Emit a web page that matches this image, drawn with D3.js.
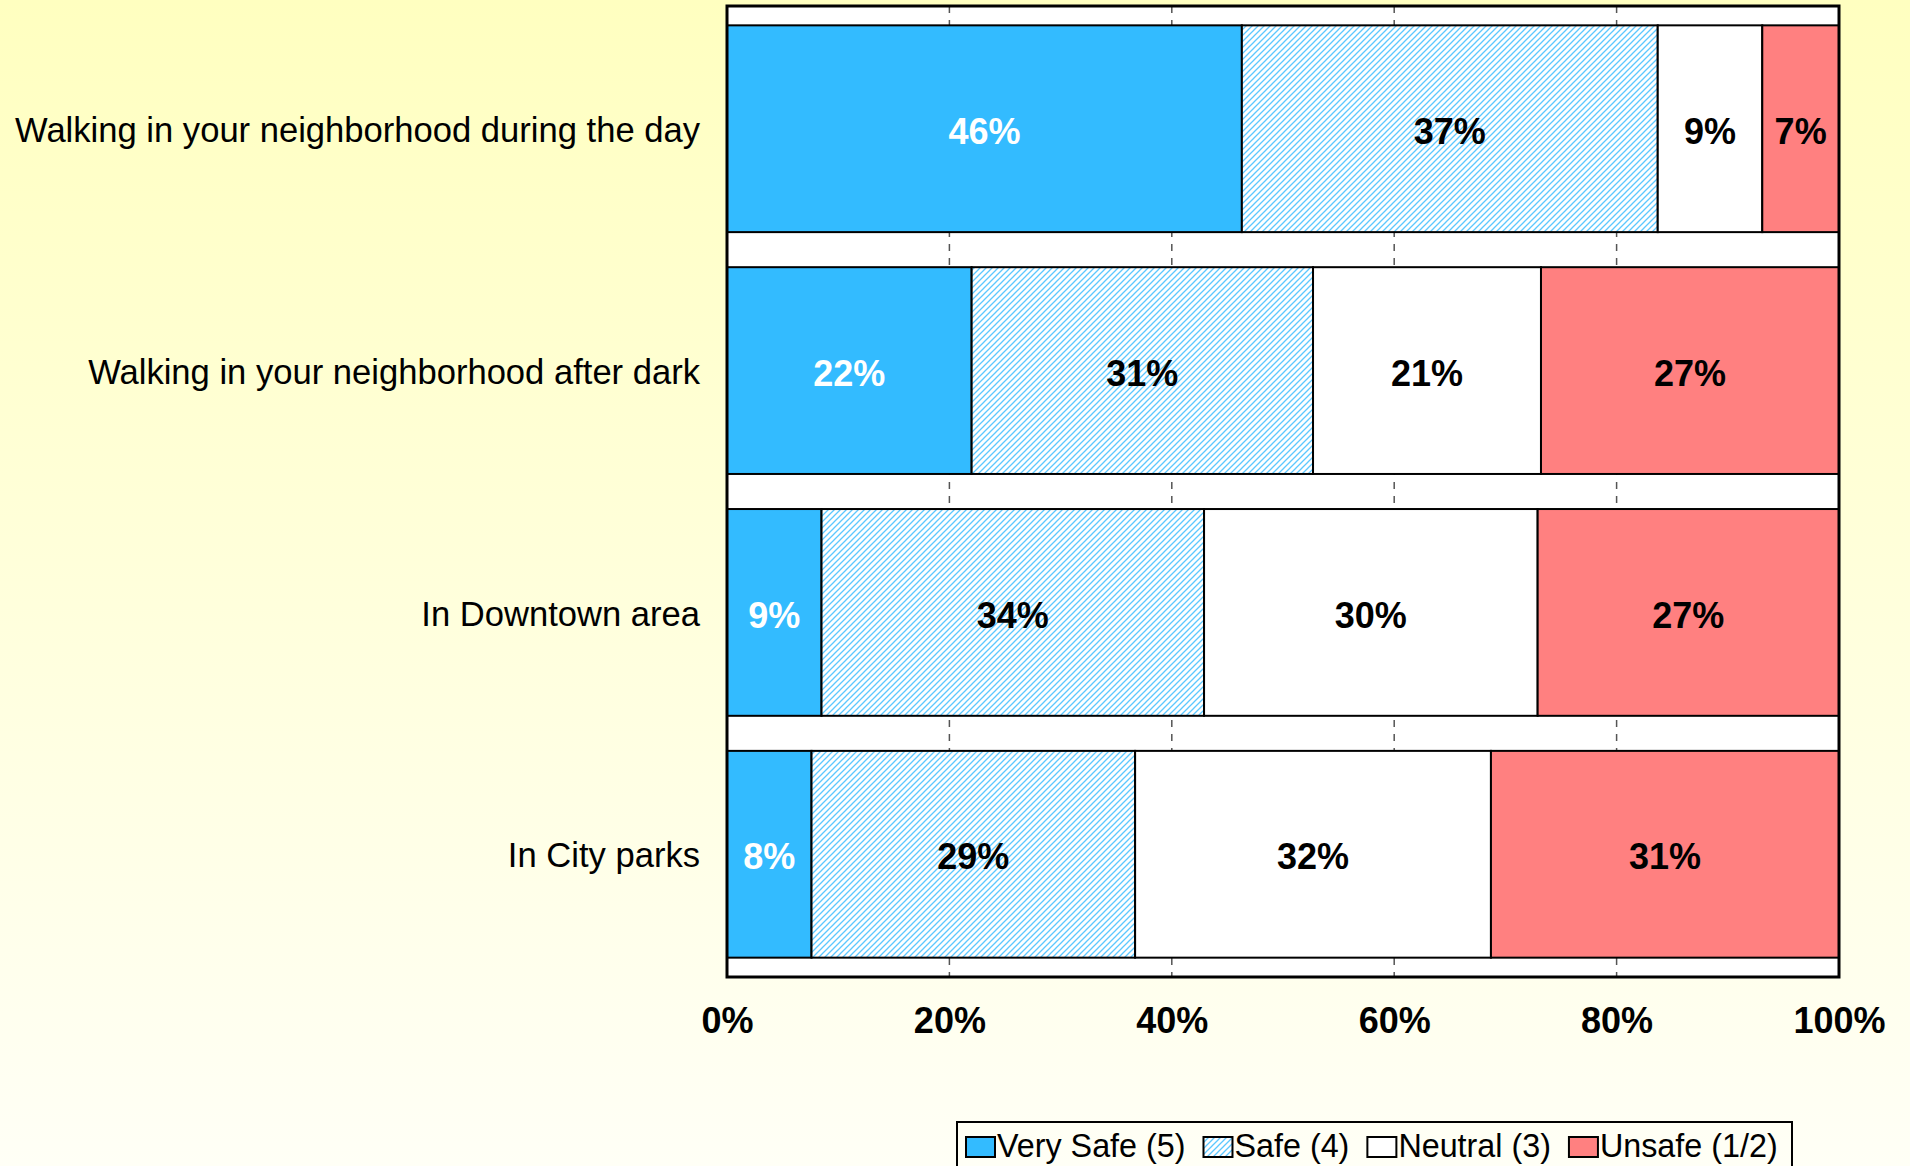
<!DOCTYPE html>
<html>
<head>
<meta charset="utf-8">
<script src="https://cdn.jsdelivr.net/npm/d3@7"></script>
<style>
  html, body { margin: 0; padding: 0; }
  body { width: 1910px; height: 1166px; overflow: hidden; }
  text { font-family: "Liberation Sans", Arial, Helvetica, sans-serif; }
</style>
</head>
<body>
<svg id="chart" width="1910" height="1166"></svg>
<script>
// ---- data ----
const categories = [
  "Walking in your neighborhood during the day",
  "Walking in your neighborhood after dark",
  "In Downtown area",
  "In City parks"
];
const seriesNames = ["Very Safe (5)", "Safe (4)", "Neutral (3)", "Unsafe (1/2)"];
const verySafe = [46.3, 22.0, 8.5, 7.6];
const safe     = [37.4, 30.7, 34.4, 29.1];
const neutral  = [9.4, 20.5, 30.0, 32.0];
const unsafe   = [6.9, 26.8, 27.1, 31.3];
const tickValues = [0, 20, 40, 60, 80, 100];
const tickLabels = ["0%", "20%", "40%", "60%", "80%", "100%"];

// ---- layout ----
const W = 1910, H = 1166;
const plot = { left: 727, right: 1839, top: 6, bottom: 977 };
const svg = d3.select("#chart");
const defs = svg.append("defs");

const bg = defs.append("linearGradient").attr("id", "bg")
  .attr("x1", 0).attr("y1", 0).attr("x2", 0).attr("y2", 1);
bg.append("stop").attr("offset", "0%").attr("stop-color", "#FFFFC0");
bg.append("stop").attr("offset", "100%").attr("stop-color", "#FFFFF6");
svg.append("rect").attr("width", W).attr("height", H).attr("fill", "url(#bg)");

const hatch = defs.append("pattern").attr("id", "hatch")
  .attr("patternUnits", "userSpaceOnUse").attr("width", 6).attr("height", 6);
hatch.append("rect").attr("width", 6).attr("height", 6).attr("fill", "#ffffff");
hatch.append("path").attr("d", "M-1,1 L1,-1 M0,6 L6,0 M5,7 L7,5")
  .attr("stroke", "#5CC8FF").attr("stroke-width", 1.3);

const fills = ["#33BBFF", "url(#hatch)", "#FFFFFF", "#FF8080"];
const labelColors = ["#FFFFFF", "#000000", "#000000", "#000000"];

const x = d3.scaleLinear().domain([0, 100]).range([plot.left, plot.right]);
const y = d3.scaleBand().domain(categories).range([plot.top, plot.bottom])
  .paddingInner(0.145).paddingOuter(0.08);

// plot background
svg.append("rect").attr("x", plot.left).attr("y", plot.top)
  .attr("width", plot.right - plot.left).attr("height", plot.bottom - plot.top)
  .attr("fill", "#FFFFFF");

// gridlines
svg.append("g").selectAll("line").data(tickValues.slice(1, -1)).join("line")
  .attr("x1", d => x(d)).attr("x2", d => x(d))
  .attr("y1", plot.top).attr("y2", plot.bottom)
  .attr("stroke", "#555").attr("stroke-width", 1.5).attr("stroke-dasharray", "7,7");

// stacked data
const rows = categories.map((c, i) => ({
  cat: c, "0": verySafe[i], "1": safe[i], "2": neutral[i], "3": unsafe[i]
}));
const stack = d3.stack().keys(["0", "1", "2", "3"])(rows);

const layers = svg.append("g").selectAll("g").data(stack).join("g");
layers.selectAll("rect").data(d => d.map(v => ({ v, k: +d.key }))).join("rect")
  .attr("x", d => x(d.v[0]))
  .attr("y", d => y(d.v.data.cat))
  .attr("width", d => x(d.v[1]) - x(d.v[0]))
  .attr("height", y.bandwidth())
  .attr("fill", d => fills[d.k])
  .attr("stroke", "#000").attr("stroke-width", 2);

layers.selectAll("text").data(d => d.map(v => ({ v, k: +d.key }))).join("text")
  .attr("x", d => (x(d.v[0]) + x(d.v[1])) / 2)
  .attr("y", d => y(d.v.data.cat) + y.bandwidth() / 2)
  .attr("dy", "0.42em")
  .attr("text-anchor", "middle")
  .attr("font-size", 36).attr("font-weight", "bold")
  .attr("fill", d => labelColors[d.k])
  .text(d => Math.round(d.v[1] - d.v[0]) + "%");

// plot border
svg.append("rect").attr("x", plot.left).attr("y", plot.top)
  .attr("width", plot.right - plot.left).attr("height", plot.bottom - plot.top)
  .attr("fill", "none").attr("stroke", "#000").attr("stroke-width", 3);

// x axis
const xAxis = d3.axisBottom(x).tickValues(tickValues)
  .tickFormat((d, i) => tickLabels[i]).tickSize(0);
const gx = svg.append("g").attr("transform", `translate(0,${plot.bottom})`).call(xAxis);
gx.select(".domain").remove();
gx.selectAll("text").attr("y", 56).attr("dy", 0)
  .attr("font-size", 36).attr("font-weight", "bold").attr("fill", "#000")
  .style("font-family", '"Liberation Sans", Arial, sans-serif');

// y category labels
const yAxis = d3.axisLeft(y).tickSize(0).tickPadding(27);
const gy = svg.append("g").attr("transform", `translate(${plot.left},0)`).call(yAxis);
gy.select(".domain").remove();
gy.selectAll("text").attr("font-size", 34.6).attr("fill", "#000").attr("dy", "0.38em")
  .style("font-family", '"Liberation Sans", Arial, sans-serif');

// legend
const legend = svg.append("g");
legend.append("rect").attr("x", 957).attr("y", 1122)
  .attr("width", 835).attr("height", 60)
  .attr("fill", "none").attr("stroke", "#000").attr("stroke-width", 2);
let lx = 966;
seriesNames.forEach((name, i) => {
  legend.append("rect").attr("x", lx).attr("y", 1137).attr("width", 29).attr("height", 20)
    .attr("fill", fills[i]).attr("stroke", "#000").attr("stroke-width", 2);
  const t = legend.append("text").attr("x", lx + 31).attr("y", 1157)
    .attr("font-size", 32.3).attr("fill", "#000").text(name);
  lx += 31 + t.node().getComputedTextLength() + 18;
});
</script>
</body>
</html>
